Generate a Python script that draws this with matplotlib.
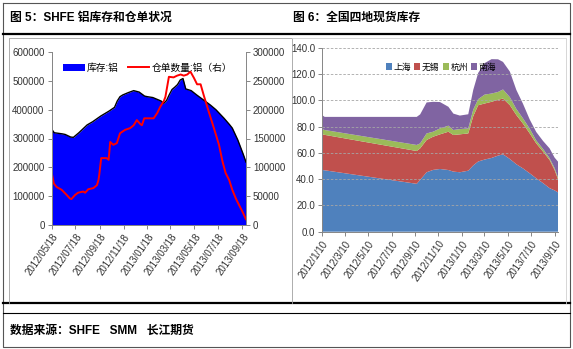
import pandas as pd
import matplotlib.pyplot as plt
from matplotlib.patches import Patch
from matplotlib.lines import Line2D

plt.rcParams['font.family'] = ['Liberation Sans', 'Noto Sans CJK SC', 'DejaVu Sans']

# ---- SHFE aluminium: inventory (left axis) and warrants (right axis) ----
inv_dates = ["2012-05-18", "2012-05-25", "2012-06-15", "2012-06-22", "2012-07-06", "2012-07-13",
             "2012-07-27", "2012-08-17", "2012-08-31", "2012-09-21", "2012-10-12", "2012-10-26",
             "2012-11-02", "2012-11-09", "2012-11-16", "2012-11-30", "2012-12-14", "2012-12-28",
             "2013-01-11", "2013-01-18", "2013-02-01", "2013-02-22", "2013-03-01", "2013-03-08",
             "2013-03-15", "2013-03-22", "2013-03-29", "2013-04-05", "2013-04-12", "2013-04-19",
             "2013-04-26", "2013-05-10", "2013-05-24", "2013-06-07", "2013-06-14", "2013-06-28",
             "2013-07-12", "2013-07-19", "2013-08-02", "2013-08-16", "2013-08-23", "2013-09-06",
             "2013-09-20", "2013-09-27"]
inv_values = [333000, 320000, 316000, 314000, 305000, 304000, 320000, 347000, 358000, 378000,
              395000, 408000, 430000, 445000, 451000, 459000, 466000, 461000, 447000, 445000,
              442000, 430000, 422000, 432000, 452000, 470000, 478000, 487000, 503000, 508000,
              472000, 466000, 451000, 437000, 430000, 416000, 400000, 390000, 370000, 348000,
              336000, 295000, 245000, 218000]

wr_dates = ["2012-05-18", "2012-05-24", "2012-05-31", "2012-06-13", "2012-06-26", "2012-07-04",
            "2012-07-08", "2012-07-17", "2012-07-25", "2012-08-07", "2012-08-12", "2012-08-20",
            "2012-09-02", "2012-09-11", "2012-09-15", "2012-09-17", "2012-09-22", "2012-10-06",
            "2012-10-11", "2012-10-15", "2012-10-23", "2012-11-01", "2012-11-09", "2012-11-22",
            "2012-12-05", "2012-12-14", "2012-12-22", "2012-12-31", "2013-01-04", "2013-01-10",
            "2013-02-03", "2013-02-12", "2013-02-20", "2013-03-01", "2013-03-05", "2013-03-14",
            "2013-03-26", "2013-04-04", "2013-04-13", "2013-04-21", "2013-04-30", "2013-05-08",
            "2013-05-17", "2013-05-25", "2013-06-03", "2013-06-11", "2013-06-24", "2013-07-07",
            "2013-07-20", "2013-07-29", "2013-08-06", "2013-08-15", "2013-08-23", "2013-09-01",
            "2013-09-09", "2013-09-18", "2013-09-27"]
wr_values = [92000, 72000, 66000, 61000, 52000, 46000, 45000, 52000, 56000, 58000, 56000, 62000,
             64000, 69000, 78000, 87000, 116000, 116000, 113000, 144000, 139000, 142000, 159000,
             165000, 168000, 173000, 182000, 175000, 173000, 185000, 185000, 194000, 205000,
             215000, 222000, 257000, 256000, 259000, 261000, 259000, 261000, 266000, 255000,
             244000, 244000, 225000, 196000, 168000, 139000, 110000, 90000, 78000, 61000, 46000,
             35000, 23000, 10000]

left_ticks = ["2012/05/18", "2012/07/18", "2012/09/18", "2012/11/18", "2013/01/18",
              "2013/03/18", "2013/05/18", "2013/07/18", "2013/09/18"]

# ---- spot inventory in four regions (10k tonnes) ----
spot_dates = ["2012-01-10", "2012-01-17", "2012-09-14", "2012-09-23", "2012-10-10", "2012-10-27",
              "2012-11-14", "2012-12-06", "2012-12-19", "2013-01-05", "2013-01-27", "2013-02-09",
              "2013-02-22", "2013-03-11", "2013-03-29", "2013-04-15", "2013-04-28", "2013-05-16",
              "2013-06-02", "2013-06-19", "2013-07-07", "2013-07-24", "2013-08-11", "2013-08-28",
              "2013-09-10", "2013-09-19"]
shanghai = [47.1, 46.8, 36.5, 39.5, 45.3, 47.1, 47.8, 47.0, 45.8, 45.3, 46.5, 50.5, 53.5, 55.0,
            56.2, 58.0, 59.0, 55.4, 51.4, 48.3, 44.5, 40.7, 37.0, 33.2, 31.5, 30.0]
wuxi = [27.1, 27.0, 25.0, 24.0, 24.6, 25.3, 26.4, 29.2, 27.9, 28.9, 28.4, 37.5, 42.9, 42.7,
        42.8, 42.5, 42.5, 41.0, 37.5, 34.2, 30.4, 26.6, 24.0, 21.5, 15.6, 10.0]
hangzhou = [4.0, 3.7, 4.6, 3.8, 5.0, 3.8, 4.5, 4.6, 3.8, 4.0, 3.8, 5.0, 4.6, 6.8, 6.3, 6.0,
            6.9, 6.1, 4.6, 4.0, 3.6, 2.2, 2.0, 1.3, 1.4, 1.5]
nanhai = [10.7, 10.0, 21.4, 22.1, 23.6, 22.8, 20.1, 14.4, 12.5, 10.3, 10.8, 15.0, 20.0, 24.0,
          26.2, 24.9, 21.0, 19.5, 14.5, 11.2, 7.0, 6.5, 6.1, 7.5, 8.0, 11.9]
regions = ["上海", "无锡", "杭州", "南海"]
region_colors = ["#4F81BD", "#C0504D", "#9BBB59", "#8064A2"]

right_ticks = ["2012/1/10", "2012/3/10", "2012/5/10", "2012/7/10", "2012/9/10", "2012/11/10",
               "2013/1/10", "2013/3/10", "2013/5/10", "2013/7/10", "2013/9/10"]

W, H = 573, 349
fig = plt.figure(figsize=(W / 100, H / 100), dpi=100)

# page frame, titles and source line drawn in pixel units
bg = fig.add_axes([0, 0, 1, 1])
bg.set_xlim(0, W)
bg.set_ylim(H, 0)
bg.axis("off")
bg.plot([3, 570, 570, 3, 3], [3, 3, 347, 347, 3], color="#555555", lw=0.8)
bg.plot([3, 570], [34, 34], color="black", lw=1.6)
bg.plot([3, 570], [303, 303], color="black", lw=1.6)
bg.plot([3, 570], [313, 313], color="black", lw=0.8)
bg.plot([9, 9, 292, 292], [303, 38, 38, 303], color="#A0A0A0", lw=0.6)
bg.plot([292, 566, 566], [38, 38, 303], color="#D0D0D0", lw=0.6)
bg.text(10, 18, "图 5：SHFE 铝库存和仓单状况", fontsize=8.5, fontweight="bold",
        va="center", ha="left")
bg.text(293, 18, "图 6：全国四地现货库存", fontsize=8.5, fontweight="bold",
        va="center", ha="left")
bg.text(10, 331, "数据来源：SHFE   SMM   长江期货", fontsize=8.5, fontweight="bold",
        va="center", ha="left")

axis_gray = "#868686"
tick_size = 7
label_rot = 55

# =========================
# LEFT CHART
# =========================
ax = fig.add_axes([51.5 / W, 1 - 225 / H, 194.5 / W, 173 / H])
ax2 = ax.twinx()
inv_x = pd.to_datetime(inv_dates)
wr_x = pd.to_datetime(wr_dates)
ax.fill_between(inv_x, inv_values, 0, color="#0000FF", lw=0)
ax.plot(inv_x, inv_values, color="black", lw=1.0)
ax2.plot(wr_x, wr_values, color="#FF0000", lw=1.4)

ax.set_xlim(pd.Timestamp("2012-05-18"), pd.Timestamp("2013-09-27"))
ax.set_ylim(0, 600000)
ax2.set_ylim(0, 300000)
ax.set_yticks(range(0, 600001, 100000))
ax.set_yticklabels([str(v) for v in range(0, 600001, 100000)])
ax2.set_yticks(range(0, 300001, 50000))
ax2.set_yticklabels([str(v) for v in range(0, 300001, 50000)])
lt = pd.to_datetime(left_ticks)
ax.set_xticks(lt)
ax.set_xticklabels(left_ticks, rotation=label_rot, ha="right", rotation_mode="anchor")

for a in (ax, ax2):
    for s in a.spines.values():
        s.set_color(axis_gray)
        s.set_linewidth(0.7)
    a.spines["top"].set_visible(False)
    a.tick_params(length=3, width=0.7, color=axis_gray, labelsize=tick_size, pad=2,
                  labelcolor="#333333")
ax.spines["right"].set_visible(False)

ax2.legend(handles=[Patch(facecolor="#0000FF", edgecolor="none", label="库存:铝"),
                    Line2D([], [], color="#FF0000", lw=1.4, label="仓单数量:铝（右）")],
           loc="upper left", bbox_to_anchor=(0.04, 0.96), ncol=2, frameon=False,
           fontsize=7, handlelength=2.2, handletextpad=0.2, columnspacing=1.0,
           borderaxespad=0)

# =========================
# RIGHT CHART
# =========================
bx = fig.add_axes([322 / W, 1 - 231.7 / H, 236 / W, 183.7 / H])
sx = pd.to_datetime(spot_dates)
bx.stackplot(sx, shanghai, wuxi, hangzhou, nanhai, colors=region_colors, labels=regions,
             lw=0)
bx.set_xlim(pd.Timestamp("2012-01-10"), pd.Timestamp("2013-09-19"))
bx.set_ylim(0, 140)
bx.set_yticks(range(0, 141, 20))
bx.set_yticklabels([f"{v:.1f}" for v in range(0, 141, 20)])
rt = pd.to_datetime(right_ticks)
bx.set_xticks(rt)
bx.set_xticklabels(right_ticks, rotation=label_rot, ha="right", rotation_mode="anchor")
bx.yaxis.grid(True, ls=(0, (3, 2)), color="#A6A6A6", lw=0.6)
bx.set_axisbelow(False)
for side in ("top", "right"):
    bx.spines[side].set_visible(False)
for s in ("left", "bottom"):
    bx.spines[s].set_color(axis_gray)
    bx.spines[s].set_linewidth(0.7)
bx.tick_params(length=3, width=0.7, color=axis_gray, labelsize=tick_size, pad=2,
               labelcolor="#333333")
bx.legend(handles=[Patch(facecolor=c, edgecolor="none", label=r)
                   for r, c in zip(regions, region_colors)],
          loc="upper left", bbox_to_anchor=(0.255, 0.94), ncol=4, frameon=False,
          fontsize=6.3, handlelength=0.7, handleheight=0.7, handletextpad=0.2,
          columnspacing=0.35, borderaxespad=0)

fig.savefig("out.png", dpi=100)
